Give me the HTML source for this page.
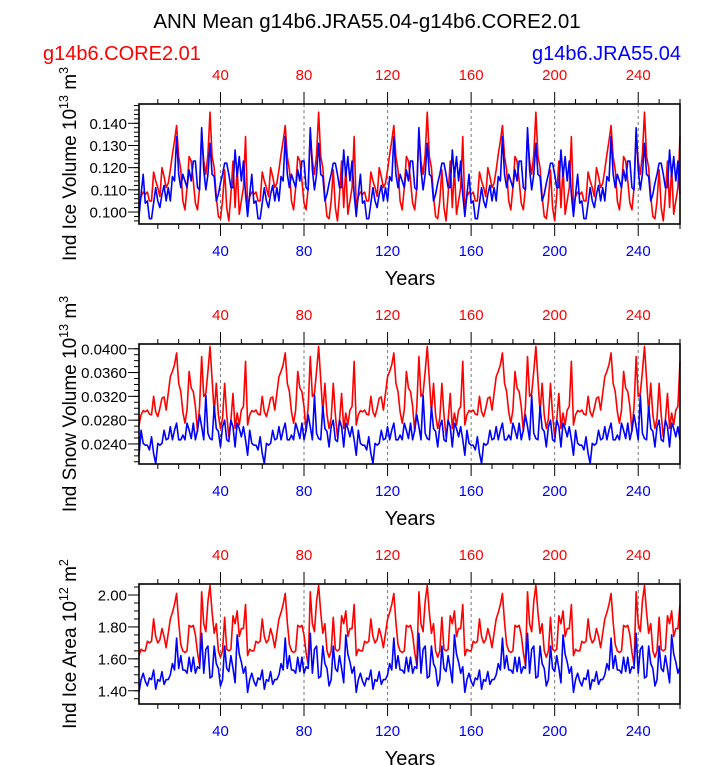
<!DOCTYPE html>
<html><head><meta charset="utf-8"><style>
html,body{margin:0;padding:0;background:#fff;}
svg{display:block;font-family:"Liberation Sans",Helvetica,sans-serif;}
</style></head><body>
<svg id="chart" width="723" height="765" viewBox="0 0 723 765" xmlns="http://www.w3.org/2000/svg">
<text x="367" y="28" font-size="20.5" text-anchor="middle">ANN Mean g14b6.JRA55.04-g14b6.CORE2.01</text>
<text x="43" y="60" font-size="20" fill="#ff0000">g14b6.CORE2.01</text>
<text x="681" y="60" font-size="20" fill="#0000ff" text-anchor="end">g14b6.JRA55.04</text>
</svg>
<script>
// 52-year forcing cycle values (years 1..52); the series repeat each cycle
const iceVolCore = [.102,.107,.109,.108,.109,.105,.105,.118,.114,.111,.107,.120,.116,.111,.113,.119,.126,.132,.139,.125,.119,.105,.101,.111,.125,.123,.114,.104,.101,.111,.136,.123,.117,.126,.145,.125,.120,.107,.098,.097,.105,.119,.102,.096,.108,.123,.102,.120,.099,.105,.111,.134];
const iceVolJra = [.098,.108,.117,.104,.105,.097,.097,.104,.111,.105,.102,.108,.112,.105,.111,.105,.116,.114,.134,.117,.111,.117,.114,.111,.119,.114,.123,.123,.111,.110,.138,.119,.110,.117,.131,.117,.116,.105,.108,.113,.117,.122,.122,.117,.111,.111,.128,.116,.125,.114,.123,.108];
const snowVolCore = [.0272,.0289,.0296,.0294,.0297,.0290,.0289,.0320,.0294,.0286,.0300,.0317,.0319,.0297,.0325,.0353,.0362,.0373,.0393,.0342,.0328,.0294,.0275,.0297,.0362,.0334,.0328,.0303,.0261,.0303,.0387,.0320,.0325,.0362,.0404,.0348,.0292,.0342,.0289,.0266,.0283,.0342,.0289,.0252,.0280,.0325,.0266,.0292,.0272,.0297,.0303,.0379];
const snowVolJra = [.0221,.0263,.0241,.0238,.0238,.0230,.0252,.0224,.0207,.0241,.0238,.0241,.0263,.0247,.0249,.0269,.0247,.0263,.0275,.0247,.0247,.0255,.0247,.0275,.0263,.0249,.0275,.0247,.0263,.0289,.0269,.0247,.0322,.0258,.0249,.0247,.0303,.0266,.0261,.0235,.0269,.0280,.0247,.0244,.0280,.0269,.0235,.0275,.0266,.0252,.0269,.0247];
const areaCore = [1.62,1.66,1.65,1.65,1.71,1.70,1.71,1.85,1.74,1.70,1.72,1.79,1.74,1.67,1.76,1.85,1.89,1.94,2.01,1.83,1.69,1.65,1.64,1.65,1.81,1.80,1.81,1.75,1.64,1.56,2.02,1.82,1.77,1.96,2.06,1.89,1.76,1.82,1.65,1.61,1.65,1.86,1.66,1.65,1.66,1.87,1.82,1.90,1.74,1.79,1.79,1.94];
const areaJra = [1.39,1.47,1.51,1.46,1.43,1.48,1.47,1.53,1.41,1.47,1.46,1.52,1.44,1.47,1.47,1.50,1.57,1.53,1.73,1.54,1.62,1.53,1.53,1.51,1.61,1.52,1.61,1.51,1.55,1.54,1.76,1.51,1.66,1.68,1.48,1.49,1.68,1.57,1.54,1.43,1.47,1.68,1.54,1.52,1.62,1.54,1.45,1.75,1.63,1.58,1.51,1.55];
const nCycles = 5;
const xTickLabels = ["40","80","120","160","200","240"];
const xTickValues = [40,80,120,160,200,240];
const iceVolTicks = ["0.100","0.110","0.120","0.130","0.140"];
const snowVolTicks = ["0.0240","0.0280","0.0320","0.0360","0.0400"];
const areaTicks = ["1.40","1.60","1.80","2.00"];

const NS="http://www.w3.org/2000/svg";
const svg=document.getElementById('chart');
function mk(tag,attrs,parent){const e=document.createElementNS(NS,tag);for(const k in attrs)e.setAttribute(k,attrs[k]);(parent||svg).appendChild(e);return e;}
const X0=139,X1=680,YR0=1,YR1=260;
function xs(yr){return X0+(yr-YR0)*(X1-X0)/(YR1-YR0);}
function tile(c){const out=[];for(let k=0;k<nCycles;k++)for(let i=0;i<c.length;i++)out.push(c[i]);return out;}

const panels=[
 {name:'ice-volume',top:104,vmin:0.0946,vmax:0.1487,ticks:iceVolTicks,minor:0.002,red:iceVolCore,blue:iceVolJra,title:['Ind Ice Volume 10','13',' m','3']},
 {name:'snow-volume',top:344,vmin:0.02063,vmax:0.0408,ticks:snowVolTicks,minor:0.001,red:snowVolCore,blue:snowVolJra,title:['Ind Snow Volume 10','13',' m','3']},
 {name:'ice-area',top:584,vmin:1.317,vmax:2.069,ticks:areaTicks,minor:0.05,red:areaCore,blue:areaJra,title:['Ind Ice Area 10','12',' m','2']}
];
panels.forEach(p=>{
 const H=120,T=p.top,B=T+H;
 const g=mk('g',{});
 
 
 const ys=v=>B-(v-p.vmin)/(p.vmax-p.vmin)*H;
 xTickValues.forEach(v=>{const l=mk('line',{x1:xs(v),x2:xs(v),y1:T,y2:B,stroke:'#777','stroke-width':1,'stroke-dasharray':'3,3'},g);
  });
 [[p.red,'#ff0000','core-series'],[p.blue,'#0000ff','jra-series']].forEach(([c,col,nm])=>{
  const d=tile(c);let s='';
  d.forEach((v,i)=>{s+=(i?'L':'M')+xs(YR0+i).toFixed(2)+','+ys(v).toFixed(2);});
  const pl=mk('path',{d:s,fill:'none',stroke:col,'stroke-width':1.6,'stroke-linejoin':'round'},g);
  
 });
 const r=mk('rect',{x:X0,y:T,width:X1-X0,height:H,fill:'none',stroke:'#000','stroke-width':1.6},g);
 
 for(let v=10;v<=260;v+=10){const maj=v%40===0;const L=maj?12:5;
  mk('line',{x1:xs(v),x2:xs(v),y1:T,y2:T-L,stroke:'#000','stroke-width':1},g);
  mk('line',{x1:xs(v),x2:xs(v),y1:B,y2:B+L,stroke:'#000','stroke-width':1},g);}
 xTickLabels.forEach((t,i)=>{
  const a=mk('text',{x:xs(xTickValues[i]),y:T-24,'font-size':15,fill:'#ff0000','text-anchor':'middle'},g);a.textContent=t;
  
  const b=mk('text',{x:xs(xTickValues[i]),y:B+32,'font-size':15,fill:'#0000ff','text-anchor':'middle'},g);b.textContent=t;
  
 });
 const yt=mk('text',{x:410,y:B+61,'font-size':20,'text-anchor':'middle'},g);yt.textContent='Years';
 
 const m=p.minor;
 for(let v=Math.ceil(p.vmin/m)*m;v<=p.vmax+1e-9;v+=m){mk('line',{x1:X0,x2:X0-5,y1:ys(v),y2:ys(v),stroke:'#000','stroke-width':1},g);}
 p.ticks.forEach(t=>{const v=parseFloat(t);
  mk('line',{x1:X0,x2:X0-11,y1:ys(v),y2:ys(v),stroke:'#000','stroke-width':1},g);
  const tx=mk('text',{x:X0-12,y:ys(v)+5.5,'font-size':15,'text-anchor':'end'},g);tx.textContent=t;
  });
 const cy=T+H/2;
 const tt=mk('text',{x:0,y:0,'font-size':19,'text-anchor':'middle',transform:'translate(76,'+cy+') rotate(-90)'},g);
 
 const parts=p.title;
 const s1=mk('tspan',{},tt);s1.textContent=parts[0];
 const s2=mk('tspan',{dy:-8,'font-size':12.5},tt);s2.textContent=parts[1];
 const s3=mk('tspan',{dy:8},tt);s3.textContent=parts[2];
 const s4=mk('tspan',{dy:-8,'font-size':12.5},tt);s4.textContent=parts[3];
});
</script>
</body></html>
